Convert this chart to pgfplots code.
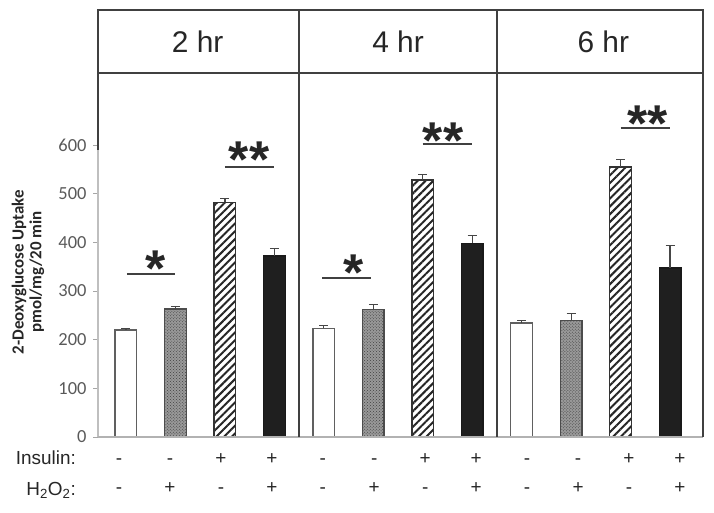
\documentclass[border=0pt]{standalone}
\usepackage{fontspec}
\setmainfont{Liberation Sans}
\newfontfamily\carlito{Carlito}
\usepackage{pgfplots}
\pgfplotsset{compat=1.18}
\usetikzlibrary{patterns,patterns.meta}
\definecolor{linec}{HTML}{404040}
\definecolor{txtc}{HTML}{262626}
\definecolor{tickc}{HTML}{595959}
\newcommand{\signs}{\fontsize{19}{21}\selectfont}
\begin{document}
\begin{tikzpicture}
\useasboundingbox (0,0) rectangle (714bp,513bp);
\begin{axis}[
  at={(98bp,76bp)}, anchor=south west,
  scale only axis, width=605bp, height=364bp,
  xmin=-0.566, xmax=11.667, ymin=0, ymax=748,
  axis x line=none, axis y line*=left,
  y axis line style={gray!50, line width=1.2bp, -},
  ytick={0,100,...,600},
  tick align=outside, major tick length=5bp,
  ytick style={gray!70, line width=1bp},
  yticklabel style={font=\carlito\fontsize{18.5}{20}\selectfont, text=tickc, xshift=-3bp},
  /pgf/number format/assume math mode=true,
  clip=false,
  ybar, bar width=21.7bp, bar shift=0pt,
  error bars/y dir=plus, error bars/y explicit,
  error bars/error bar style={gray!55!black, line width=1.2bp},
  error bars/error mark options={rotate=90, mark size=4.5bp, line width=1.2bp, gray!55!black},
]
% white: insulin -, H2O2 -
\addplot[draw=gray!75!black, line width=1.3bp, fill=white]
  coordinates {(0,220) +- (0,3) (4,223) +- (0,6) (8,234) +- (0,6)};
% dotted gray: insulin -, H2O2 +
\addplot[draw=black!70, line width=1.3bp, fill=black!40, postaction={pattern=crosshatch dots, pattern color=black!75}]
  coordinates {(1,263) +- (0,5) (5,262) +- (0,10) (9,240) +- (0,13)};
% hatched: insulin +, H2O2 -
\addplot[draw=black!80, line width=1.3bp, fill=white, postaction={pattern={Lines[angle=45, distance=5.5bp, line width=2bp]}, pattern color=black!85}]
  coordinates {(2,482) +- (0,8) (6,528) +- (0,12) (10,555) +- (0,16)};
% black: insulin +, H2O2 +
\addplot[draw=black!90, line width=1.3bp, fill=black!88]
  coordinates {(3,372) +- (0,16) (7,398) +- (0,16) (11,347) +- (0,46)};

% x axis line
\draw[gray!60, line width=2bp] (axis cs:-0.566,0) -- (axis cs:11.667,0);
% header box and panel frames
\draw[linec, line width=1.6bp] (axis cs:-0.566,877.5) rectangle (axis cs:11.667,748);
\draw[linec, line width=1.6bp] (axis cs:-0.566,748) -- (axis cs:-0.566,590);
\draw[linec, line width=1.6bp] (axis cs:3.5,877.5) -- (axis cs:3.5,0);
\draw[linec, line width=1.6bp] (axis cs:7.5,877.5) -- (axis cs:7.5,0);
\draw[linec, line width=1.6bp] (axis cs:11.667,748) -- (axis cs:11.667,0);
\node[font=\fontsize{30}{32}\selectfont, text=txtc] at (axis cs:1.45,812.7) {2 hr};
\node[font=\fontsize{30}{32}\selectfont, text=txtc] at (axis cs:5.5,812.7) {4 hr};
\node[font=\fontsize{30}{32}\selectfont, text=txtc] at (axis cs:9.65,812.7) {6 hr};

% significance
\draw[linec, line width=2bp] (axis cs:0.02,335) -- (axis cs:1.0,335);
\draw[linec, line width=2bp] (axis cs:2.0,555) -- (axis cs:3.0,555);
\draw[linec, line width=2bp] (axis cs:3.97,327) -- (axis cs:4.96,327);
\draw[linec, line width=2bp] (axis cs:6.0,603) -- (axis cs:7.0,603);
\draw[linec, line width=2bp] (axis cs:10.0,634) -- (axis cs:11.0,634);
\begin{scope}[every node/.style={anchor=base, inner sep=0pt, font=\bfseries\fontsize{52}{60}\selectfont, text=txtc}]
\node at (axis cs:0.59,310) {*};
\node at (axis cs:2.49,534) {**};
\node at (axis cs:4.6,302) {*};
\node at (axis cs:6.41,573) {**};
\node at (axis cs:10.54,608) {**};
\end{scope}

% treatment table
\begin{scope}[every node/.style={anchor=base, inner sep=0pt, font=\signs, text=txtc}]
\node at (axis cs:-0.14,-55.5) {-};
\node at (axis cs:0.89,-55.5) {-};
\node at (axis cs:1.92,-55.5) {+};
\node at (axis cs:2.95,-55.5) {+};
\node at (axis cs:3.98,-55.5) {-};
\node at (axis cs:5.02,-55.5) {-};
\node at (axis cs:6.05,-55.5) {+};
\node at (axis cs:7.08,-55.5) {+};
\node at (axis cs:8.11,-55.5) {-};
\node at (axis cs:9.14,-55.5) {-};
\node at (axis cs:10.17,-55.5) {+};
\node at (axis cs:11.2,-55.5) {+};
\node at (axis cs:-0.14,-117) {-};
\node at (axis cs:0.89,-117) {+};
\node at (axis cs:1.92,-117) {-};
\node at (axis cs:2.95,-117) {+};
\node at (axis cs:3.98,-117) {-};
\node at (axis cs:5.02,-117) {+};
\node at (axis cs:6.05,-117) {-};
\node at (axis cs:7.08,-117) {+};
\node at (axis cs:8.11,-117) {-};
\node at (axis cs:9.14,-117) {+};
\node at (axis cs:10.17,-117) {-};
\node at (axis cs:11.2,-117) {+};
\end{scope}
\end{axis}
\node[anchor=base east, inner sep=0pt, font=\signs, text=txtc] at (76bp,48bp) {Insulin:};
\node[anchor=base east, inner sep=0pt, font=\signs, text=txtc] at (76bp,18bp) {H\textsubscript{2}O\textsubscript{2}:};
\node[rotate=90, align=center, font=\carlito\bfseries\fontsize{17}{18}\selectfont, text=txtc] at (28bp,241bp) {2-Deoxyglucose Uptake\\pmol/mg/20 min};
\end{tikzpicture}
\end{document}
